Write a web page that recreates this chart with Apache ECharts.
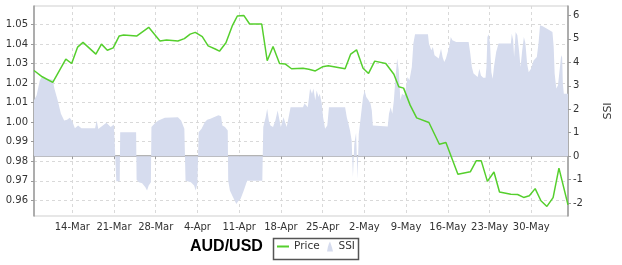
<!DOCTYPE html>
<html>
<head>
<meta charset="utf-8">
<script src="https://cdn.jsdelivr.net/npm/echarts@6/dist/echarts.min.js"></script>
<style>html,body{margin:0;padding:0;background:#fff}#c{width:622px;height:265px}</style>
</head>
<body>
<div id="c"></div>
<script>
// Day numbers counted from 29-Feb-2012 (day 14 = 14-Mar, day 32 = 1-Apr, ...)
const dateTicks = [14, 21, 28, 35, 42, 49, 56, 63, 70, 77, 84, 91];
const priceTicks = [0.96, 0.97, 0.98, 0.99, 1.00, 1.01, 1.02, 1.03, 1.04, 1.05];
const ssiTicks = [-2, -1, 0, 1, 2, 3, 4, 5, 6];
const monthNames = ['Jan','Feb','Mar','Apr','May','Jun','Jul','Aug','Sep','Oct','Nov','Dec'];

const priceDays = [7.58, 8.96, 10.73, 12.92, 13.90, 14.90, 15.80, 17.96, 18.90, 19.88, 20.87, 21.88, 22.61, 24.79, 26.82, 28.71, 29.81, 31.72, 32.80, 33.78, 34.63, 35.81, 36.79, 37.98, 38.69, 39.78, 40.88, 41.69, 42.77, 43.75, 45.78, 46.70, 47.68, 48.77, 49.70, 50.78, 52.70, 53.68, 54.77, 55.97, 56.95, 59.77, 60.71, 61.69, 62.78, 63.70, 64.74, 66.59, 67.95, 68.77, 69.58, 70.68, 71.77, 73.83, 75.58, 76.68, 78.69, 80.77, 81.76, 82.61, 83.64, 84.74, 85.67, 87.57, 88.71, 89.72, 90.67, 91.65, 92.62, 93.62, 94.66, 95.64, 97.16];
const priceValues = [1.0264, 1.0232, 1.0203, 1.0322, 1.0300, 1.0384, 1.0408, 1.0348, 1.0399, 1.0368, 1.0380, 1.0441, 1.0446, 1.0440, 1.0485, 1.0415, 1.0420, 1.0415, 1.0427, 1.0450, 1.0459, 1.0437, 1.0390, 1.0374, 1.0363, 1.0406, 1.0495, 1.0543, 1.0546, 1.0502, 1.0502, 1.0314, 1.0387, 1.0300, 1.0298, 1.0273, 1.0276, 1.0271, 1.0262, 1.0283, 1.0288, 1.0273, 1.0348, 1.0370, 1.0276, 1.0249, 1.0312, 1.0300, 1.0245, 1.0181, 1.0174, 1.0087, 1.0022, 0.9998, 0.9887, 0.9896, 0.9733, 0.9746, 0.9802, 0.9802, 0.9697, 0.9745, 0.9643, 0.9631, 0.9630, 0.9615, 0.9624, 0.9660, 0.9598, 0.9569, 0.9614, 0.9765, 0.9577];

const ssiDays = [7.58, 8.02, 8.56, 8.83, 9.70, 10.73, 11.01, 11.55, 12.10, 12.64, 13.13, 13.58, 14.00, 14.44, 14.98, 15.54, 17.83, 18.09, 18.37, 19.72, 20.44, 20.98, 21.31, 21.39, 21.96, 22.04, 24.71, 24.79, 25.18, 25.72, 26.26, 26.54, 26.82, 27.19, 27.28, 27.90, 28.45, 29.53, 31.72, 32.26, 32.80, 32.92, 33.00, 33.90, 34.44, 34.71, 34.99, 35.12, 35.20, 35.69, 36.23, 36.63, 37.17, 38.52, 38.96, 39.18, 39.62, 40.08, 40.16, 40.44, 40.97, 41.53, 41.79, 42.23, 42.77, 43.33, 45.88, 46.04, 46.44, 46.70, 46.97, 47.25, 47.68, 48.07, 48.45, 48.77, 48.99, 49.43, 49.70, 49.97, 50.41, 50.62, 52.70, 52.97, 53.51, 53.89, 54.22, 54.45, 54.77, 54.99, 55.31, 55.52, 55.85, 56.08, 56.41, 56.78, 57.06, 59.77, 60.05, 60.33, 60.59, 60.87, 61.08, 61.31, 61.61, 61.85, 62.06, 62.39, 62.78, 63.04, 63.32, 63.70, 64.03, 64.25, 64.42, 66.92, 67.13, 67.41, 67.69, 67.95, 68.23, 68.50, 68.77, 69.04, 69.32, 69.70, 69.86, 70.24, 70.56, 70.96, 71.22, 71.50, 73.67, 73.83, 74.23, 74.49, 74.77, 75.04, 75.47, 75.86, 76.12, 76.40, 76.68, 76.94, 77.22, 77.50, 77.76, 78.04, 78.41, 80.49, 80.77, 81.03, 81.31, 81.58, 82.01, 82.29, 82.56, 82.94, 83.32, 83.48, 83.64, 83.87, 84.08, 84.30, 84.53, 84.74, 85.11, 85.51, 87.57, 87.73, 87.96, 88.12, 88.38, 88.66, 88.94, 89.20, 89.48, 89.76, 90.02, 90.30, 90.57, 90.95, 91.39, 91.93, 92.21, 92.47, 92.91, 93.57, 94.55, 94.76, 94.92, 95.20, 95.48, 95.74, 96.02, 96.18, 96.30, 96.46, 96.72, 97.16];
const ssiValues = [2.38, 2.6, 3.23, 3.34, 3.3, 3.26, 2.87, 2.38, 1.81, 1.52, 1.55, 1.64, 1.49, 1.19, 1.31, 1.19, 1.19, 1.52, 1.16, 1.42, 1.24, 1.35, 1.27, -1.07, -1.07, 1.02, 1.02, -1.0, -1.11, -1.15, -1.32, -1.46, -1.25, -1.11, 1.24, 1.41, 1.52, 1.64, 1.66, 1.52, 1.17, 1.17, -1.04, -1.11, -1.25, -1.46, -1.15, -1.1, 1.02, 1.17, 1.45, 1.55, 1.6, 1.74, 1.7, 1.31, 1.24, 1.1, -1.04, -1.46, -1.75, -2.03, -1.93, -1.82, -1.46, -1.04, -1.04, 1.24, 1.66, 2.02, 1.52, 1.31, 1.24, 1.52, 1.95, 2.02, 1.24, 1.66, 1.59, 1.24, 1.81, 2.09, 2.09, 2.24, 2.09, 2.88, 2.66, 2.88, 2.38, 2.8, 2.52, 2.66, 2.24, 1.66, 1.17, 1.31, 2.09, 2.09, 1.66, 1.38, 1.1, 0.67, -0.9, 0.52, 1.0, -0.96, 0.95, 1.66, 2.52, 2.8, 2.52, 2.38, 2.24, 1.95, 1.31, 1.27, 1.81, 2.09, 1.81, 2.38, 3.37, 4.16, 3.66, 2.38, 2.66, 2.59, 2.73, 3.37, 3.23, 3.8, 4.8, 5.19, 5.19, 4.8, 4.51, 4.65, 4.3, 4.37, 4.16, 4.58, 4.22, 4.01, 4.16, 4.08, 4.65, 5.08, 4.94, 5.01, 4.86, 4.86, 4.37, 3.8, 3.52, 3.44, 3.37, 3.73, 3.44, 3.34, 3.34, 3.8, 5.08, 5.19, 4.8, 3.58, 3.3, 3.8, 4.44, 4.8, 4.8, 5.22, 4.94, 4.22, 5.29, 5.15, 4.51, 3.8, 4.51, 5.08, 4.8, 3.94, 3.58, 3.73, 4.08, 4.22, 4.8, 5.58, 5.53, 5.44, 5.29, 4.65, 3.52, 2.88, 3.02, 3.09, 4.3, 4.2, 3.09, 2.66, 2.73, 2.66];

function dayLabel(d) {
  const dt = new Date(2012, 1, 29 + Math.round(d));
  return dt.getDate() + '-' + monthNames[dt.getMonth()];
}

const priceData = priceDays.map((d, i) => [d, priceValues[i]]);
const ssiData = ssiDays.map((d, i) => [d, ssiValues[i]]);

const gridLine = { show: true, lineStyle: { color: '#d9d9d9', type: [3, 3], width: 1 } };
const axisFont = { fontFamily: 'DejaVu Sans', fontSize: 10, color: '#333' };

const chart = echarts.init(document.getElementById('c'), null, { renderer: 'canvas' });
chart.setOption({
  animation: false,
  backgroundColor: '#fff',
  title: {
    text: 'AUD/USD', left: 190, top: 239, padding: 0,
    textStyle: { fontFamily: 'Liberation Sans', fontWeight: 'bold', fontSize: 16, color: '#000' }
  },
  legend: [
    {
      data: ['Price'], left: 276, top: 241, padding: 0, itemWidth: 12, itemHeight: 10,
      itemStyle: { opacity: 0 },
      textStyle: { fontFamily: 'DejaVu Sans', fontSize: 10.5, color: '#333' }
    },
    {
      data: [{ name: 'SSI', icon: 'path://M0,10 L1,5 L2,2 L3,0 L4,3 L5,6 L6,10 Z' }],
      left: 327, top: 241, padding: 0, itemWidth: 7, itemHeight: 10,
      textStyle: { fontFamily: 'DejaVu Sans', fontSize: 10.5, color: '#333' }
    }
  ],
  graphic: [{
    type: 'rect', left: 271, top: 236, shape: { width: 85, height: 21 },
    style: { fill: 'none', stroke: '#555', lineWidth: 1.5 }, silent: true
  }],
  grid: { left: 34, right: 40, top: 6, bottom: 49, show: true, borderColor: '#cfcfcf', borderWidth: 1 },
  xAxis: {
    type: 'value', min: 7.58, max: 97.16,
    axisLine: { show: true, lineStyle: { color: '#9a9a9a', width: 1.5 } },
    axisTick: { show: true, length: 3, customValues: dateTicks, lineStyle: { color: '#9a9a9a' } },
    axisLabel: Object.assign({ customValues: dateTicks, margin: 6, formatter: v => dayLabel(v) }, axisFont),
    splitLine: gridLine
  },
  yAxis: [
    {
      type: 'value', min: 0.952, max: 1.0594, position: 'left',
      axisLine: { show: true, lineStyle: { color: '#9a9a9a', width: 1.5 } },
      axisTick: { show: true, length: 3, customValues: priceTicks, lineStyle: { color: '#9a9a9a' } },
      axisLabel: Object.assign({ customValues: priceTicks, margin: 6, formatter: v => v.toFixed(2) }, axisFont),
      splitLine: gridLine
    },
    {
      type: 'value', min: -2.546, max: 6.397, position: 'right',
      name: 'SSI', nameLocation: 'middle', nameGap: 35,
      nameTextStyle: { fontFamily: 'DejaVu Sans', fontSize: 11, color: '#333' },
      axisLine: { show: true, lineStyle: { color: '#9a9a9a', width: 1.5 } },
      axisTick: { show: true, length: 3, customValues: ssiTicks, lineStyle: { color: '#9a9a9a' } },
      axisLabel: Object.assign({ customValues: ssiTicks, margin: 5, formatter: v => String(v) }, axisFont),
      splitLine: { show: false }
    }
  ],
  series: [
    {
      name: 'SSI', type: 'line', yAxisIndex: 1, data: ssiData, symbol: 'none',
      itemStyle: { color: '#d6dcee' },
      lineStyle: { width: 0, color: '#d6dcee' },
      areaStyle: { color: '#d6dcee', opacity: 1 }
    },
    {
      name: 'Price', type: 'line', yAxisIndex: 0, data: priceData, symbol: 'none',
      itemStyle: { color: '#55cf2d' },
      lineStyle: { width: 1.5, color: '#55cf2d' }
    }
  ]
});
</script>
</body>
</html>
